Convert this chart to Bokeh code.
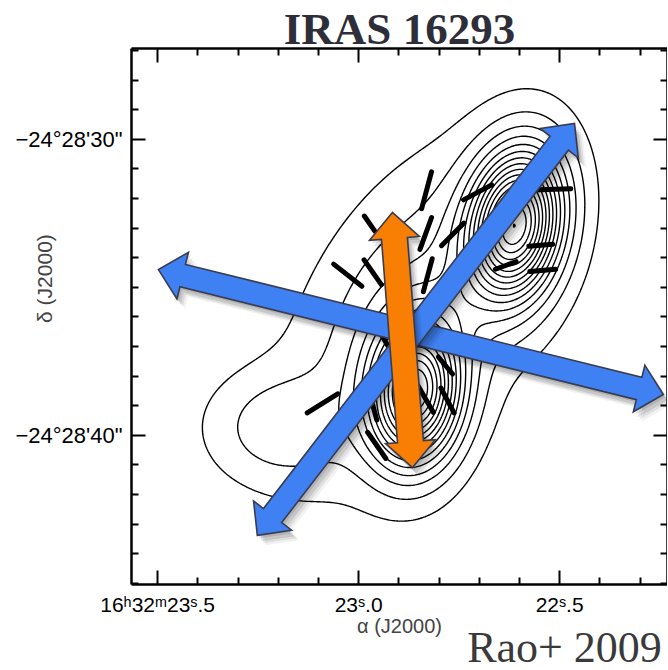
import numpy as np
from bokeh.plotting import figure
from bokeh.models import Range1d, FixedTicker, LinearAxis, ColumnDataSource
from bokeh.embed import file_html
from bokeh.resources import INLINE

# ---------------- data ----------------
# RA in seconds of 16h32m, Dec as arcsec below -24d28'
ra_major = [23.5, 23.0, 22.5]
ra_minor = [23.4, 23.3, 23.2, 23.1, 22.9, 22.8, 22.7, 22.6, 22.4, 22.3]
ra_labels = ["16ʰ32ᵐ23ˢ.5", "23ˢ.0", "22ˢ.5"]
dec_major = [30, 40]
dec_minor = [27, 28, 29, 31, 32, 33, 34, 35, 36, 37, 38, 39, 41, 42, 43, 44, 45]
dec_labels = ["−24°28'30\"", "−24°28'40\""]

# dust continuum components (elliptical gaussians): NE source, SW source, envelope, lobe
comp_ra = [22.610, 22.859, 22.851, 23.205]
comp_dec = [32.88, 38.55, 35.75, 39.73]
comp_amp = [1.00, 0.90, 0.17, 0.12]
comp_smaj = [1.69, 1.63, 3.90, 1.60]
comp_smin = [1.02, 1.02, 2.20, 1.25]
comp_pa = [-10, -5, -31, 90]
contour_levels = [0.04, 0.10, 0.17, 0.24, 0.31, 0.38, 0.45, 0.52, 0.59,
                  0.66, 0.73, 0.80, 0.87, 0.94, 1.01, 1.08]

# polarization (B-field) segments
pol_ra = [22.831, 22.704, 22.522, 22.654, 22.766, 22.833, 22.973, 23.027, 22.965,
          22.828, 22.547, 22.542, 22.634, 23.090, 22.960, 22.955, 22.833, 22.779,
          22.925, 22.784]
pol_dec = [31.72, 31.79, 31.69, 32.60, 33.21, 33.18, 32.84, 34.59, 34.49,
           34.59, 33.58, 34.43, 34.26, 38.92, 39.22, 40.34, 38.78, 38.82,
           37.03, 37.64]
pol_pa = [-15, -62, -88, -70, -45, -20, 35, 52, 35,
          -15, -85, -85, -70, -58, 15, 35, 30, 28,
          30, 40]
pol_len = [1.29, 1.08, 1.36, 0.75, 1.08, 1.15, 0.61, 1.22, 1.02,
           1.15, 0.81, 0.88, 0.75, 1.22, 0.54, 1.08, 1.02, 0.95,
           0.88, 0.75]

# outflow arrows (blue, double headed): tip positions
outflow_ra0 = [23.498, 23.252]
outflow_dec0 = [34.40, 43.38]
outflow_ra1 = [22.242, 22.463]
outflow_dec1 = [38.62, 29.46]
# mean field direction (orange, double headed)
field_ra0 = [22.916]
field_dec0 = [32.47]
field_ra1 = [22.866]
field_dec1 = [41.09]

# ---------------- layout ----------------
X_LEFT, X_RIGHT = 23.565, 22.2317
Y_TOP, Y_BOT = 26.93, 45.04
FW = FH = 536

def px_to_data(px, py):
    return (X_LEFT + px / FW * (X_RIGHT - X_LEFT),
            Y_TOP + py / FH * (Y_BOT - Y_TOP))

def data_to_px(x, y):
    return ((x - X_LEFT) / (X_RIGHT - X_LEFT) * FW,
            (y - Y_TOP) / (Y_BOT - Y_TOP) * FH)

p = figure(frame_width=FW, frame_height=FH,
           x_range=Range1d(X_LEFT, X_RIGHT), y_range=Range1d(Y_BOT, Y_TOP),
           x_axis_type=None, y_axis_type=None,
           output_backend="svg", toolbar_location=None,
           min_border_left=131, min_border_right=0, min_border_top=46,
           min_border_bottom=0)
p.outline_line_color = None
p.background_fill_color = "white"
p.border_fill_color = "white"

FONT = "Liberation Sans"

def make_axis(ticks, minor, labels, show, size="20px", standoff=9):
    ax = LinearAxis(ticker=FixedTicker(ticks=ticks, minor_ticks=minor))
    ax.major_tick_in = 14
    ax.major_tick_out = 0
    ax.minor_tick_in = 7
    ax.minor_tick_out = 0
    ax.axis_line_width = 2.5
    ax.axis_line_color = "black"
    ax.major_tick_line_width = 2
    ax.minor_tick_line_width = 2
    if show:
        ax.major_label_overrides = {t: l for t, l in zip(ticks, labels)}
        ax.major_label_text_font = FONT
        ax.major_label_text_font_size = size
        ax.major_label_text_color = "black"
        ax.major_label_standoff = standoff
    else:
        ax.major_label_overrides = {t: "" for t in ticks}
        ax.major_label_text_font_size = "1px"
        ax.major_label_standoff = 0
    return ax

xb = make_axis(ra_major, ra_minor, ra_labels, True, "21px", 8)
xb.axis_label = "α (J2000)"
xb.axis_label_text_font = FONT
xb.axis_label_text_font_size = "20px"
xb.axis_label_text_font_style = "normal"
xb.axis_label_standoff = -4
p.add_layout(xb, "below")

# credit line, carried by a bare axis below the RA axis; leading no-break
# spaces push the visible words to the right edge of the frame
xr = LinearAxis(ticker=FixedTicker(ticks=[], minor_ticks=[]))
xr.axis_line_color = None
xr.major_tick_line_color = None
xr.minor_tick_line_color = None
xr.major_label_text_font_size = "1px"
xr.major_label_standoff = 0
xr.axis_label = "\u00a0" * 30 + "Rao+ 2009"
xr.axis_label_text_font = "Liberation Serif"
xr.axis_label_text_font_size = "44px"
xr.axis_label_text_font_style = "normal"
xr.axis_label_text_color = "#3a3a3a"
xr.axis_label_standoff = -17
p.add_layout(xr, "below")

xt = make_axis(ra_major, ra_minor, ra_labels, False)
xt.axis_label = "IRAS 16293"
xt.axis_label_text_font = "Liberation Serif"
xt.axis_label_text_font_size = "45px"
xt.axis_label_text_font_style = "bold"
xt.axis_label_text_color = "#2e2e3a"
xt.axis_label_standoff = -5
p.add_layout(xt, "above")

yl = make_axis(dec_major, dec_minor, dec_labels, True, "22px")
# leading no-break spaces lift the label above the frame centre, as in the original
yl.axis_label = "\u00a0" * 13 + "δ (J2000)"
yl.axis_label_text_font = FONT
yl.axis_label_text_font_size = "21px"
yl.axis_label_text_font_style = "normal"
yl.axis_label_standoff = -44
p.add_layout(yl, "left")

p.add_layout(make_axis(dec_major, dec_minor, dec_labels, False), "right")

# ---------------- contours ----------------
ARCSEC_PER_S = 15 * np.cos(np.radians(24.475))
gx = np.linspace(22.15, 23.65, 360)
gy = np.linspace(26.5, 45.5, 380)
GX, GY = np.meshgrid(gx, gy)
Z = np.zeros_like(GX)
for ra_c, de_c, a, smaj, smin, pa in zip(comp_ra, comp_dec, comp_amp, comp_smaj, comp_smin, comp_pa):
    e = (GX - ra_c) * ARCSEC_PER_S
    n = -(GY - de_c)
    th = np.radians(pa)
    u = e * np.sin(th) + n * np.cos(th)
    v = e * np.cos(th) - n * np.sin(th)
    Z += a * np.exp(-0.5 * ((u / smaj) ** 2 + (v / smin) ** 2))

p.contour(gx, gy, Z, contour_levels, line_color="black", line_width=1.4)

# ---------------- polarization segments ----------------
pra = np.array(pol_ra); pde = np.array(pol_dec)
ppa = np.radians(np.array(pol_pa)); plen = np.array(pol_len)
de_off = 0.5 * plen * np.sin(ppa) / ARCSEC_PER_S
dn_off = 0.5 * plen * np.cos(ppa)
seg = ColumnDataSource(dict(x0=pra - de_off, y0=pde + dn_off, x1=pra + de_off, y1=pde - dn_off))
p.segment(x0="x0", y0="y0", x1="x1", y1="y1", source=seg, line_color="black",
          line_width=5, line_cap="round")

# ---------------- arrows ----------------
def arrow_poly(x0, y0, x1, y1, sw, hw, hl, dx=0.0, dy=0.0):
    a = np.array(data_to_px(x0, y0)); b = np.array(data_to_px(x1, y1))
    d = b - a
    u = d / np.hypot(*d)
    nrm = np.array([-u[1], u[0]])
    pts = [a,
           a + u * hl + nrm * hw, a + u * hl + nrm * sw,
           b - u * hl + nrm * sw, b - u * hl + nrm * hw,
           b,
           b - u * hl - nrm * hw, b - u * hl - nrm * sw,
           a + u * hl - nrm * sw, a + u * hl - nrm * hw]
    xs, ys = [], []
    for q in pts:
        X, Y = px_to_data(q[0] + dx, q[1] + dy)
        xs.append(X); ys.append(Y)
    return xs, ys

def draw_arrow(x0, y0, x1, y1, sw, hw, hl, color):
    for dx, dy, al in [(2, 3, 0.10), (4, 6, 0.10), (6, 8, 0.08), (8, 10, 0.05)]:
        xs, ys = arrow_poly(x0, y0, x1, y1, sw, hw, hl, dx, dy)
        p.patch(xs, ys, fill_color="black", fill_alpha=al, line_color=None)
    xs, ys = arrow_poly(x0, y0, x1, y1, sw, hw, hl)
    p.patch(xs, ys, fill_color=color, line_color="#393c50", line_width=1.6,
            line_join="miter")

BLUE = "#3f80f2"
ORANGE = "#f97e04"
for i in range(len(outflow_ra0)):
    draw_arrow(outflow_ra0[i], outflow_dec0[i], outflow_ra1[i], outflow_dec1[i],
               11.5, 24, 25, BLUE)
for i in range(len(field_ra0)):
    draw_arrow(field_ra0[i], field_dec0[i], field_ra1[i], field_dec1[i],
               13, 25, 26, ORANGE)

open("out.html", "w").write(file_html(p, INLINE))
